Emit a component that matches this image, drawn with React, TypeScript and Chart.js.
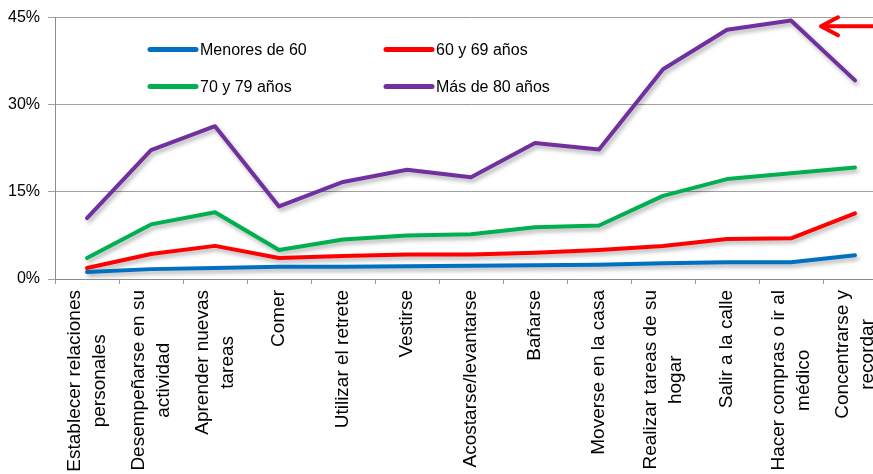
import React, { useEffect, useRef } from "react";
import { Chart, registerables } from "chart.js";

Chart.register(...registerables);

const categories: string[][] = [
  ["Establecer relaciones", "personales"],
  ["Desempeñarse en su", "actividad"],
  ["Aprender nuevas", "tareas"],
  ["Comer"],
  ["Utilizar el retrete"],
  ["Vestirse"],
  ["Acostarse/levantarse"],
  ["Bañarse"],
  ["Moverse en la casa"],
  ["Realizar tareas de su", "hogar"],
  ["Salir a la calle"],
  ["Hacer compras o ir al", "médico"],
  ["Concentrarse y", "recordar"],
];

const seriesNames = ["Menores de 60", "60 y 69 años", "70 y 79 años", "Más de 80 años"];

const menores60 = [1.2, 1.7, 1.9, 2.1, 2.1, 2.2, 2.3, 2.35, 2.45, 2.7, 2.9, 2.9, 4.1];
const de60a69 = [1.9, 4.3, 5.7, 3.6, 3.95, 4.2, 4.2, 4.5, 5.0, 5.7, 6.9, 7.0, 11.3];
const de70a79 = [3.6, 9.4, 11.5, 5.0, 6.8, 7.5, 7.7, 8.9, 9.2, 14.3, 17.2, 18.2, 19.2];
const mas80 = [10.5, 22.2, 26.3, 12.5, 16.7, 18.8, 17.5, 23.4, 22.3, 36.1, 42.9, 44.5, 34.2];

const yTicks = [0, 15, 30, 45];

const colors = ["#0070C0", "#FF0000", "#00B050", "#7030A0"];
const FONT = "'Liberation Sans', Arial, sans-serif";

const shadowPlugin = {
  id: "lineShadow",
  beforeDatasetsDraw(chart: any) {
    const ctx = chart.ctx;
    ctx.save();
    ctx.shadowColor = "rgba(0,0,0,0.3)";
    ctx.shadowBlur = 4;
    ctx.shadowOffsetX = 2;
    ctx.shadowOffsetY = 3;
  },
  afterDatasetsDraw(chart: any) {
    chart.ctx.restore();
  },
};

// Category labels: rotated, lines centred on each other and on the tick
const xLabelPlugin = {
  id: "xLabels",
  afterDraw(chart: any) {
    const ctx = chart.ctx;
    const xs = chart.scales.x;
    const lineGap = 25;
    ctx.save();
    ctx.font = `19px ${FONT}`;
    ctx.fillStyle = "#000";
    ctx.textAlign = "center";
    ctx.textBaseline = "middle";
    xs.ticks.forEach((_t: any, i: number) => {
      const raw = chart.data.labels[i];
      const lines: string[] = Array.isArray(raw) ? raw : [String(raw)];
      const cx = xs.getPixelForTick(i);
      const maxW = Math.max(...lines.map((l) => ctx.measureText(l).width));
      const topY = xs.top + 11;
      lines.forEach((line, j) => {
        const x = cx + (j - (lines.length - 1) / 2) * lineGap;
        ctx.save();
        ctx.translate(x, topY + maxW / 2);
        ctx.rotate(-Math.PI / 2);
        ctx.fillText(line, 0, 0);
        ctx.restore();
      });
    });
    ctx.restore();
  },
};

const gridLegendPlugin = {
  id: "gridLegend",
  afterDraw(chart: any) {
    const ctx = chart.ctx;
    const { left, top } = chart.chartArea;
    const cols = [left + 95, left + 331];
    const rows = [top + 32, top + 69];
    ctx.save();
    chart.data.datasets.forEach((ds: any, i: number) => {
      const x = cols[i % 2];
      const y = rows[Math.floor(i / 2)];
      ctx.strokeStyle = ds.borderColor;
      ctx.lineWidth = 5;
      ctx.lineCap = "round";
      ctx.beginPath();
      ctx.moveTo(x, y);
      ctx.lineTo(x + 46, y);
      ctx.stroke();
      ctx.fillStyle = "#000";
      ctx.font = `16px ${FONT}`;
      ctx.textBaseline = "middle";
      ctx.textAlign = "left";
      ctx.fillText(ds.label, x + 50, y + 1);
    });
    ctx.restore();
  },
};

const arrowPlugin = {
  id: "arrow",
  afterDraw(chart: any) {
    const ctx = chart.ctx;
    const xs = chart.scales.x;
    const ys = chart.scales.y;
    const tipX = xs.getPixelForValue(11) + 30;
    const tipY = ys.getPixelForValue(43.5);
    ctx.save();
    ctx.strokeStyle = "#FF0000";
    ctx.lineWidth = 4;
    ctx.lineCap = "round";
    ctx.lineJoin = "round";
    ctx.beginPath();
    ctx.moveTo(tipX + 2, tipY);
    ctx.lineTo(chart.width, tipY);
    ctx.stroke();
    ctx.beginPath();
    ctx.moveTo(tipX + 17, tipY - 9);
    ctx.lineTo(tipX, tipY);
    ctx.lineTo(tipX + 17, tipY + 9);
    ctx.stroke();
    ctx.restore();
  },
};

export default function App() {
  const ref = useRef<HTMLCanvasElement | null>(null);

  useEffect(() => {
    if (!ref.current) return;
    const values = [menores60, de60a69, de70a79, mas80];
    const chart = new Chart(ref.current, {
      type: "line",
      data: {
        labels: categories,
        datasets: values.map((v, i) => ({
          label: seriesNames[i],
          data: v,
          borderColor: colors[i],
          backgroundColor: colors[i],
          borderWidth: 4,
          pointRadius: 0,
          tension: 0,
          borderJoinStyle: "round" as const,
          borderCapStyle: "round" as const,
        })),
      },
      options: {
        responsive: false,
        animation: false,
        devicePixelRatio: 1,
        layout: { padding: { top: 17, right: 1, left: 0, bottom: 0 } },
        plugins: {
          legend: { display: false },
          tooltip: { enabled: false },
        },
        scales: {
          x: {
            type: "category",
            offset: true,
            afterFit(scale: any) {
              scale.height = 195;
              scale.paddingLeft = 0;
              scale.paddingRight = 0;
            },
            grid: {
              display: true,
              drawOnChartArea: false,
              drawTicks: true,
              tickLength: 5,
              offset: true,
              color: "#9a9a9a",
            },
            border: { display: true, color: "#8c8c8c", width: 1 },
            ticks: {
              display: false,
              autoSkip: false,
            },
          },
          y: {
            min: 0,
            max: 45,
            afterFit(scale: any) {
              scale.width = 55;
            },
            afterBuildTicks(scale: any) {
              scale.ticks = yTicks.map((v) => ({ value: v }));
            },
            grid: {
              color: "#a0a0a0",
              lineWidth: 1,
              drawTicks: true,
              tickLength: 7,
            },
            border: { display: true, color: "#8c8c8c", width: 1 },
            ticks: {
              padding: 8,
              color: "#000",
              font: { family: FONT, size: 16 },
              callback: (v: any) => `${v}%`,
            },
          },
        },
      },
      plugins: [shadowPlugin, xLabelPlugin, gridLegendPlugin, arrowPlugin],
    });
    return () => chart.destroy();
  }, []);

  return (
    <div
      style={{
        position: "absolute",
        left: 0,
        top: 0,
        width: 873,
        height: 474,
        overflow: "hidden",
        background: "#fff",
      }}
    >
      <canvas ref={ref} width={888} height={474} style={{ display: "block" }} />
    </div>
  );
}
